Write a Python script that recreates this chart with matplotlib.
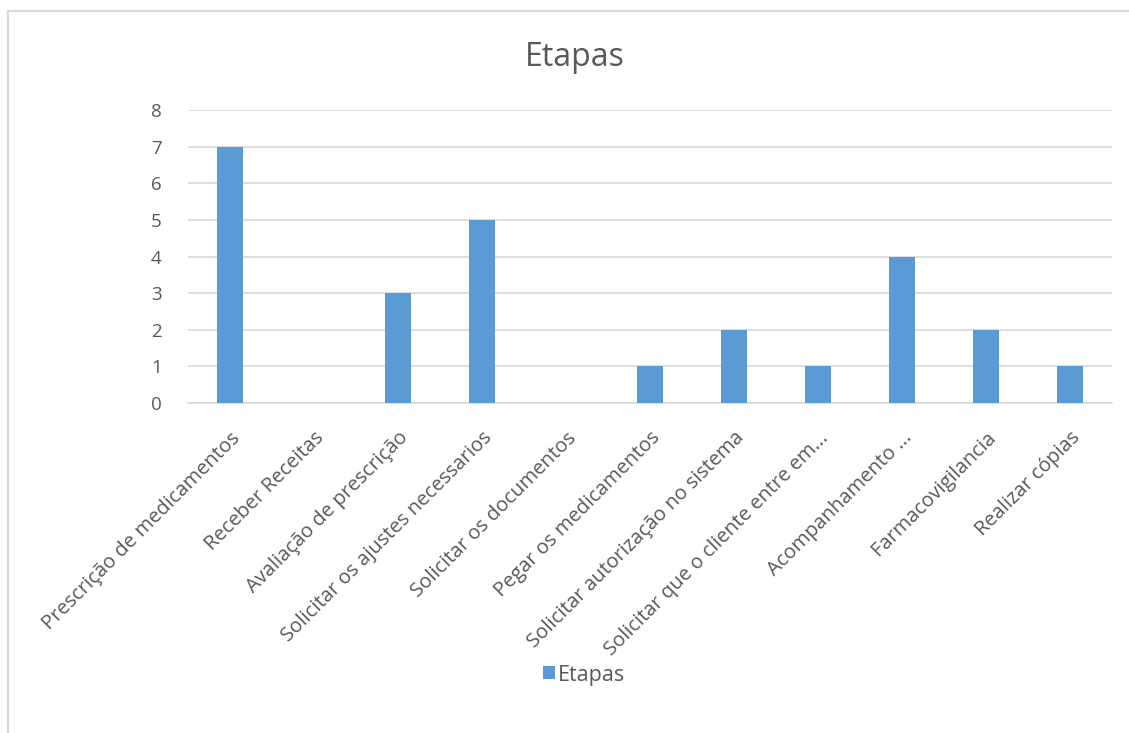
"""Excel-style bar chart: Etapas."""

import matplotlib.pyplot as plt
from matplotlib.lines import Line2D

categories = [
    "Prescrição de medicamentos",
    "Receber Receitas",
    "Avaliação de prescrição",
    "Solicitar os ajustes necessarios",
    "Solicitar os documentos",
    "Pegar os medicamentos",
    "Solicitar autorização no sistema",
    "Solicitar que o cliente entre em...",
    "Acompanhamento ...",
    "Farmacovigilancia",
    "Realizar cópias",
]
values = [7, 0, 3, 5, 0, 1, 2, 1, 4, 2, 1]
yticks = [0, 1, 2, 3, 4, 5, 6, 7, 8]

BAR = "#5b9bd5"
TEXT = "#595959"
GRID = "#d9d9d9"

plt.rcParams["font.family"] = ["Open Sans", "DejaVu Sans"]

W, H = 1129, 733
fig = plt.figure(figsize=(W / 100, H / 100), dpi=100)
ax = fig.add_axes([188 / W, 1 - 403 / H, (1112 - 188) / W, (403 - 110) / H])

x = list(range(len(categories)))
ax.bar(x, values, width=0.3, color=BAR, zorder=3, label="Etapas")
ax.set_xlim(-0.5, len(categories) - 0.5)
ax.set_ylim(0, 8)
ax.set_yticks(yticks)
ax.set_yticklabels([str(v) for v in yticks])
ax.set_xticks(x)
ax.set_xticklabels(categories, rotation=45, ha="right", rotation_mode="anchor")
ax.tick_params(axis="both", length=0, colors=TEXT)
ax.tick_params(axis="x", pad=18, labelsize=14.5)
ax.tick_params(axis="y", pad=19, labelsize=13.5)
ax.grid(axis="y", color=GRID, linewidth=1.2, zorder=0)
for side in ("top", "right", "left"):
    ax.spines[side].set_visible(False)
ax.spines["bottom"].set_color(GRID)
ax.spines["bottom"].set_linewidth(1.2)

fig.text(575 / W, 1 - 58 / H, "Etapas", ha="center", va="center",
         fontsize=23, color=TEXT)

handles, labels = ax.get_legend_handles_labels()
fig.legend(handles, labels, loc="center", bbox_to_anchor=(584 / W, 1 - 675 / H),
           frameon=False, fontsize=15.5, labelcolor=TEXT, handlelength=0.55,
           handleheight=0.55, handletextpad=0.15)

# chart border (top and left visible)
fig.add_artist(Line2D([8 / W, 1], [1 - 11 / H, 1 - 11 / H], color=GRID,
                      linewidth=1.5, transform=fig.transFigure))
fig.add_artist(Line2D([8 / W, 8 / W], [1 - 11 / H, 0], color=GRID,
                      linewidth=1.5, transform=fig.transFigure))

fig.savefig("out.png", dpi=100, facecolor="white")
